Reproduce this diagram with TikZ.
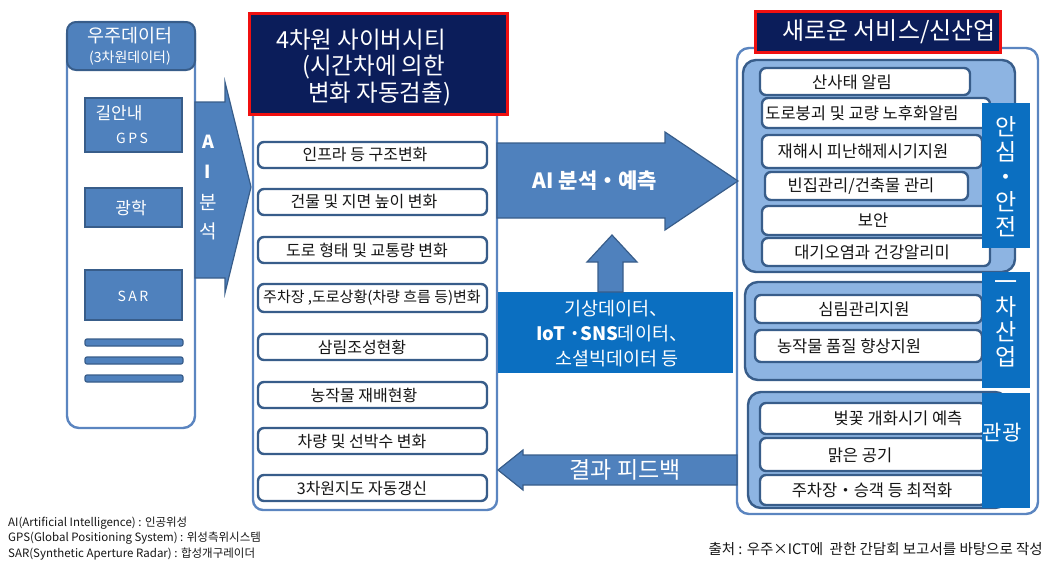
\documentclass[tikz,border=0pt]{standalone}
\usepackage{fontspec}
\setmainfont{Noto Sans CJK KR}
\definecolor{mblue}{HTML}{4F81BD}
\definecolor{dkb}{HTML}{385D8A}
\definecolor{pnl}{HTML}{5B85C0}
\definecolor{navy}{HTML}{0B1D5A}
\definecolor{redb}{HTML}{F01010}
\definecolor{brb}{HTML}{0B6FC1}
\definecolor{lgf}{HTML}{8DB4E2}
\definecolor{txk}{HTML}{151515}
\newcommand\fs[2]{\fontsize{#1}{#2}\selectfont}
\newcommand\pxbox[6]{%
  \pgfmathsetmacro\pbw{#5-#3}%
  \pgfmathsetmacro\pbh{#6-#4}%
  \pgfmathsetmacro\pbx{(#3+#5)/2}%
  \pgfmathsetmacro\pby{(#4+#6)/2}%
  \node[#1, minimum width=\pbw pt, minimum height=\pbh pt, inner sep=0pt, outer sep=0pt] (#2) at (\pbx,\pby) {};%
}
\begin{document}
\begin{tikzpicture}[x=1pt,y=-1pt,
  panel/.style={draw=pnl, line width=2.4pt, fill=white},
  item/.style={draw=dkb, line width=2.4pt, rounded corners=6pt, fill=white},
  blk/.style={fill=mblue, draw=dkb, line width=1.2pt},
  grp/.style={fill=lgf, draw=dkb, line width=2.4pt, rounded corners=13pt},
  wtxt/.style={text=white, inner sep=0pt},
  ktxt/.style={text=txk, inner sep=0pt},
  mtxt/.style={ktxt, font=\fs{16}{19}},
  rtxt/.style={ktxt, font=\fs{16.5}{19}}]
\useasboundingbox (0,0) rectangle (1047,566);

% ---------- left panel ----------
\pxbox{panel, rounded corners=12pt}{lp}{67}{22}{195}{428}
\pxbox{blk, line width=2pt, rounded corners=9pt}{lh}{67}{22}{195}{70}
\node[wtxt, font=\fs{18.5}{21}] (lh1) at (130,36) {우주데이터};
\node[wtxt, font=\fs{14}{16}] (lh2) at (130,58) {(3차원데이터)};
\pxbox{blk}{gps}{85}{98}{182}{152}
\node[wtxt, font=\fs{17}{19}] (gps1) at (119,113) {길안내};
\node[wtxt, font=\fs{14}{16}\addfontfeature{LetterSpace=18}] (gps2) at (132,138) {GPS};
\pxbox{blk}{opt}{85}{188}{182}{227}
\node[wtxt, font=\fs{17}{19}] (optt) at (131,208) {광학};
\pxbox{blk}{sar}{85}{270}{182}{320}
\node[wtxt, font=\fs{14}{16}\addfontfeature{LetterSpace=18}] (sart) at (133,296) {SAR};
\pxbox{blk, rounded corners=2pt}{ln1}{85}{339}{183}{346}
\pxbox{blk, rounded corners=2pt}{ln2}{85}{357}{183}{364}
\pxbox{blk, rounded corners=2pt}{ln3}{85}{375}{183}{382}

% ---------- middle panel ----------
\pxbox{panel, rounded corners=10pt}{mp}{253}{90}{497}{510}
\pxbox{fill=navy, draw=redb, line width=3pt}{mh}{249}{13}{507}{114}
\node[wtxt, font=\fs{23.5}{26}, anchor=west] (mh1) at (276,40) {4차원 사이버시티};
\node[wtxt, font=\fs{23.5}{26}, anchor=west] (mh2) at (302,67) {(시간차에 의한};
\node[wtxt, font=\fs{23.5}{26}, anchor=west] (mh3) at (308,94) {변화 자동검출)};

\pxbox{item}{m1}{258}{142}{487}{168}
\node[mtxt] (m1t) at (365,155) {인프라 등 구조변화};
\pxbox{item}{m2}{258}{189}{487}{215}
\node[mtxt] (m2t) at (364,202) {건물 및 지면 높이 변화};
\pxbox{item}{m3}{258}{237}{487}{263}
\node[mtxt] (m3t) at (367,250) {도로 형태 및 교통량 변화};
\pxbox{item}{m4}{258}{284}{487}{312}
\node[ktxt, font=\fs{15}{17}] (m4t) at (372,298) {주차장 ,도로상황(차량 흐름 등)변화};
\pxbox{item}{m5}{258}{334}{487}{360}
\node[mtxt] (m5t) at (362,347) {삼림조성현황};
\pxbox{item}{m6}{258}{382}{487}{408}
\node[mtxt] (m6t) at (364,395) {농작물 재배현황};
\pxbox{item}{m7}{258}{428}{487}{454}
\node[mtxt] (m7t) at (362,441) {차량 및 선박수 변화};
\pxbox{item}{m8}{258}{475}{487}{501}
\node[mtxt] (m8t) at (362,488) {3차원지도 자동갱신};

% ---------- left AI arrow ----------
\draw[blk] (195,102) -- (225,102) -- (225,82) -- (251,187) -- (225,293) -- (225,278) -- (195,278) -- cycle;
\node[wtxt, font=\fs{18}{20}\bfseries] (aiA) at (208,142) {A};
\node[wtxt, font=\fs{18}{20}\bfseries] (aiI) at (208,172) {I};
\node[wtxt, font=\fs{19}{21}] (ai3) at (208,202) {분};
\node[wtxt, font=\fs{19}{21}] (ai4) at (208,231) {석};

% ---------- right panel ----------
\pxbox{panel, rounded corners=12pt}{rp}{737}{48}{1038}{514}
\pxbox{fill=navy, draw=redb, line width=3pt}{rh}{755}{11}{1000}{52}
\node[wtxt, font=\fs{24}{26}] (rht) at (889,32) {새로운 서비스/신산업};

\pxbox{grp}{g1}{743}{60}{1015}{272}
\pxbox{grp}{g2}{745}{282}{1012}{380}
\pxbox{grp}{g3}{748}{392}{1008}{508}

\pxbox{item}{r1}{760}{68}{970}{95}
\node[rtxt] (r1t) at (852,82) {산사태 알림};
\pxbox{item}{r2}{762}{98}{990}{128}
\node[rtxt] (r2t) at (862,113) {도로붕괴 및 교량 노후화알림};
\pxbox{item}{r3}{762}{135}{982}{168}
\node[rtxt] (r3t) at (863,151) {재해시 피난해제시기지원};
\pxbox{item}{r4}{765}{172}{968}{200}
\node[rtxt] (r4t) at (861,186) {빈집관리/건축물 관리};
\pxbox{item}{r5}{762}{206}{990}{235}
\node[rtxt] (r5t) at (873,220) {보안};
\pxbox{item}{r6}{762}{238}{990}{266}
\node[rtxt] (r6t) at (872,252) {대기오염과 건강알리미};

\pxbox{item}{r7}{755}{295}{982}{323}
\node[rtxt] (r7t) at (864,309) {심림관리지원};
\pxbox{item}{r8}{755}{330}{982}{362}
\node[rtxt] (r8t) at (849,346) {농작물 품질 향상지원};

\pxbox{item}{r9}{760}{403}{986}{434}
\node[rtxt] (r9t) at (898,418) {벚꽃 개화시기 예측};
\pxbox{item}{r10}{760}{438}{986}{471}
\node[rtxt] (r10t) at (860,455) {맑은 공기};
\pxbox{item}{r11}{760}{475}{986}{505}
\node[rtxt] (r11t) at (872,490) {주차장・승객 등 최적화};

\pxbox{fill=brb}{s1}{982}{103}{1030}{248}
\node[wtxt, font=\fs{23}{25}, align=center] (s1t) at (1006,177) {안\\심\\・\\안\\전};
\pxbox{fill=brb}{s2}{982}{272}{1030}{388}
\node[wtxt, font=\fs{23}{25}, align=center] (s2t) at (1006,324) {一\\차\\산\\업};
\pxbox{fill=brb}{s3}{982}{393}{1030}{508}
\node[wtxt, font=\fs{21}{24}] (s3t) at (1002,433) {관광};

% ---------- centre arrows ----------
\draw[blk] (497,143) -- (665,143) -- (665,132) -- (738,181) -- (665,230) -- (665,218) -- (497,218) -- cycle;
\node[wtxt, font=\fs{21}{24}\bfseries] (aip) at (595,181) {AI 분석・예측};

\pxbox{fill=brb}{wx}{498}{292}{733}{373}
\draw[blk] (598,292) -- (598,262) -- (587,262) -- (612,235) -- (637,262) -- (623,262) -- (623,292) -- cycle;
\node[wtxt, font=\fs{18.5}{21}] (wx1) at (616,309) {기상데이터、};
\node[wtxt, font=\fs{18.5}{21}] (wx2) at (612,334) {{\bfseries IoT ·SNS}데이터、};
\node[wtxt, font=\fs{18.5}{21}] (wx3) at (617,359) {소셜빅데이터 등};

\draw[blk] (737,455) -- (523,455) -- (523,450) -- (498,470) -- (523,490) -- (523,485) -- (737,485) -- cycle;
\node[wtxt, font=\fs{23}{26}] (fb) at (625,470) {결과 피드백};

% ---------- notes ----------
\node[ktxt, font=\fs{11.5}{15}, anchor=west] (n1) at (8,523) {AI(Artificial Intelligence) : 인공위성};
\node[ktxt, font=\fs{11.5}{15}, anchor=west] (n2) at (8,538) {GPS(Global Positioning System) : 위성측위시스템};
\node[ktxt, font=\fs{11.5}{15}, anchor=west] (n3) at (8,554) {SAR(Synthetic Aperture Radar) : 합성개구레이더};
\node[ktxt, font=\fs{14.5}{17}, anchor=east] (src) at (1043,549) {출처 : 우주×ICT에\ \ 관한 간담회 보고서를 바탕으로 작성};
\end{tikzpicture}
\end{document}
